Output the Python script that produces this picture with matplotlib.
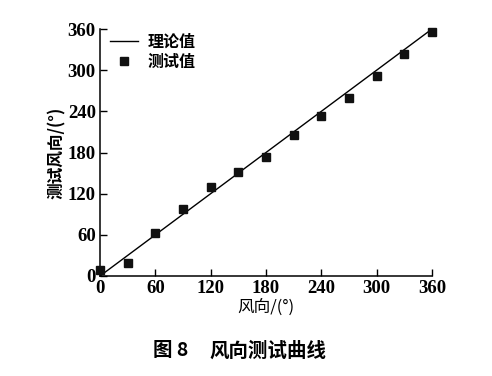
import matplotlib
matplotlib.use('Agg')
import matplotlib.pyplot as plt

plt.rcParams['font.family'] = ['Liberation Serif', 'Noto Sans CJK SC']

theory_x = [0, 360]
theory_y = [0, 360]
test_x = [0, 30, 60, 90, 120, 150, 180, 210, 240, 270, 300, 330, 360]
test_y = [9, 19, 63, 98, 129, 152, 174, 205, 233, 260, 291, 323, 355]
ticks = [0, 60, 120, 180, 240, 300, 360]

cjk = ['Noto Sans CJK SC', 'DejaVu Sans']

fig = plt.figure(figsize=(4.92, 3.76), dpi=100)
ax = fig.add_axes([100 / 492, 100 / 376, 332 / 492, 247 / 376])

ax.plot(theory_x, theory_y, color='black', linewidth=1.0, label='理论值')
ax.plot(test_x, test_y, 's', color='#111111', markersize=5.5, clip_on=False,
        label='测试值', zorder=3)

ax.set_xlim(0, 360)
ax.set_ylim(0, 360)
ax.set_xticks(ticks)
ax.set_yticks(ticks)
ax.tick_params(direction='in', length=5, width=1, labelsize=13.5, pad=3)
for lab in ax.get_xticklabels() + ax.get_yticklabels():
    lab.set_fontweight('bold')
for s in ['top', 'right']:
    ax.spines[s].set_visible(False)
for s in ['left', 'bottom']:
    ax.spines[s].set_linewidth(1.1)

ax.set_xlabel('风向/(°)', family=cjk, fontsize=12, labelpad=1)
ax.set_ylabel('测试风向/(°)', family=cjk, fontsize=12, weight='bold', labelpad=1)

lgd = ax.legend(loc='upper left', frameon=False, prop={'family': cjk, 'size': 11.5, 'weight': 'bold'},
                handlelength=1.8, handletextpad=0.6, borderaxespad=0.2,
                bbox_to_anchor=(0.0, 1.02), labelspacing=0.25)

# figure caption
fig.text(188, 376 - 351, '图 8', transform=None, ha='right', va='center',
         family=['Noto Sans CJK SC'], fontsize=14, weight='bold')
fig.text(209, 376 - 351, '风向测试曲线', transform=None, ha='left', va='center',
         family=cjk, fontsize=14, weight='bold')

fig.savefig('out.png', dpi=100)
